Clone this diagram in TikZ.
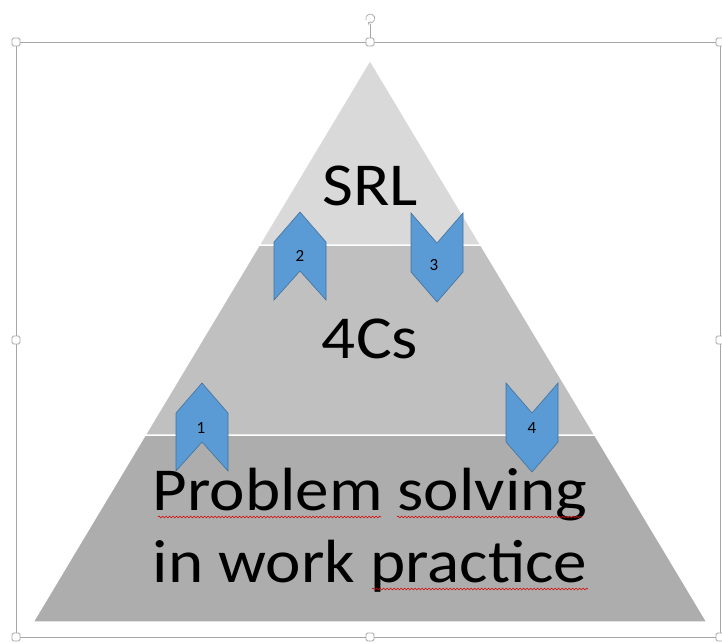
\documentclass[tikz,border=0pt]{standalone}
\usepackage{fontspec}
\setmainfont{Carlito}
\usetikzlibrary{decorations.pathmorphing}
\definecolor{bandtop}{HTML}{D9D9D9}
\definecolor{bandmid}{HTML}{C0C0C0}
\definecolor{bandlow}{HTML}{ADADAD}
\definecolor{chevfill}{HTML}{5B9BD5}
\definecolor{chevline}{HTML}{41719C}
\definecolor{framegray}{HTML}{A6A6A6}
\begin{document}
\begin{tikzpicture}
	[x=1pt,y=-1pt,
	band/.style={draw=white,line width=1.5pt},
	chev/.style={fill=chevfill,draw=chevline,line width=0.6pt,line join=miter},
	num/.style={font=\fontsize{17}{17}\selectfont,inner sep=0pt},
	big/.style={font=\fontsize{61}{72}\selectfont,anchor=base,inner sep=0pt,xscale=1.1},
	squiggle/.style={draw=red!85!black,line width=0.6pt,decorate,
		decoration={snake,amplitude=0.9pt,segment length=3.5pt}},
	handle/.style={draw=framegray,fill=white,line width=0.8pt,rounded corners=1.5pt,
		minimum size=8pt,inner sep=0pt}]
	\useasboundingbox (0,0) rectangle (722,643);
	% selection frame
	\draw[framegray,line width=0.8pt] (16,42) rectangle (720,637);
	\draw[framegray,line width=0.8pt] (370,42) -- (370,24);
	\draw[framegray,line width=0.7pt,->] (366,20) arc (200:-120:4.5pt);
	\node[handle] (h1) at (16,42) {};
	\node[handle] (h2) at (370,42) {};
	\node[handle] (h3) at (720,42) {};
	\node[handle] (h4) at (16,340) {};
	\node[handle] (h5) at (720,340) {};
	\node[handle] (h6) at (16,637) {};
	\node[handle] (h7) at (370,637) {};
	\node[handle] (h8) at (720,637) {};
	% pyramid
	\fill[bandlow,band] (145.1,435) -- (594.9,435) -- (707,622) -- (33,622) -- cycle;
	\fill[bandmid,band] (259.1,245) -- (480.9,245) -- (594.9,435) -- (145.1,435) -- cycle;
	\fill[bandtop,band] (370,60) -- (480.9,245) -- (259.1,245) -- cycle;
	\node[big] (srl) at (370,205) {SRL};
	\node[big] (fourc) at (370,358) {4Cs};
	\node[big] (prob) at (370,510) {Problem solving};
	\node[big] (work) at (370,582) {in work practice};
	\draw[squiggle] (158,517) -- (381,517);
	\draw[squiggle] (397,517) -- (582,517);
	\draw[squiggle] (372,589) -- (588,589);
	% chevrons
	\draw[chev] (202,383) -- ++(26,30) -- ++(0,58) -- ++(-26,-29) -- ++(-26,29) -- ++(0,-58) -- cycle;
	\draw[chev] (300,212) -- ++(26,30) -- ++(0,58) -- ++(-26,-29) -- ++(-26,29) -- ++(0,-58) -- cycle;
	\draw[chev] (411,213) -- ++(26,30) -- ++(26,-30) -- ++(0,59) -- ++(-26,30) -- ++(-26,-30) -- cycle;
	\draw[chev] (506,383) -- ++(26,30) -- ++(26,-30) -- ++(0,59) -- ++(-26,30) -- ++(-26,-30) -- cycle;
	\node[num] (n1) at (201,428) {1};
	\node[num] (n2) at (300,256) {2};
	\node[num] (n3) at (434,265) {3};
	\node[num] (n4) at (532,428) {4};
\end{tikzpicture}
\end{document}
